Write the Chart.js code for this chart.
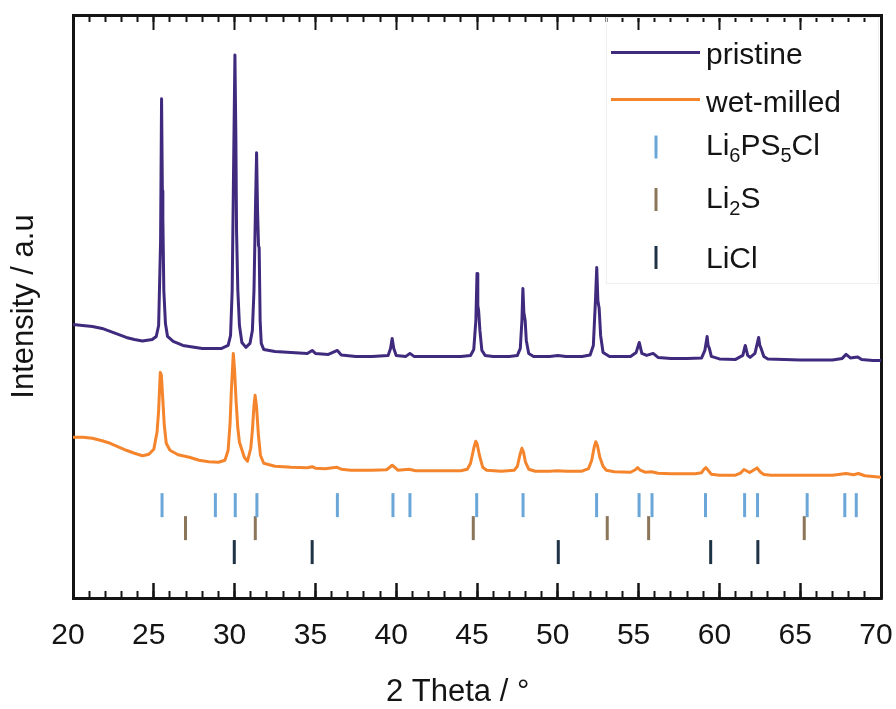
<!DOCTYPE html>
<html>
<head>
<meta charset="utf-8">
<script src="https://cdn.jsdelivr.net/npm/chart.js@4.4.1/dist/chart.umd.min.js"></script>
<style>
  html, body { margin: 0; padding: 0; background: #ffffff; }
  #wrap { width: 896px; height: 709px; }
</style>
</head>
<body>
<div id="wrap"><canvas id="xrd" width="896" height="709"></canvas></div>
<script>
// ---- XRD patterns (2θ in degrees, intensity in arbitrary units) ----
const pristineTheta = [
  20.0, 20.6, 21.2, 21.8, 22.3, 22.8, 23.3, 23.8, 24.3, 24.9, 25.15, 25.3, 25.42, 25.48, 25.53, 25.56, 25.62, 25.72, 25.85,
  26.2, 26.8, 27.4, 28.0, 28.6, 29.2, 29.6, 29.75, 29.85, 29.95, 30.02, 30.08, 30.12, 30.2, 30.3, 30.45, 30.7, 30.95,
  31.1, 31.2, 31.3, 31.36, 31.42, 31.48, 31.52, 31.58, 31.65, 31.8, 32.5, 33.5, 34.5, 34.8, 35.0, 35.8, 36.36, 36.6,
  37.5, 38.5, 39.5, 39.65, 39.75, 39.85, 40.0, 40.6, 40.85, 41.1, 42.0, 43.0, 44.0, 44.6, 44.8, 44.93, 45.0, 45.05,
  45.1, 45.18, 45.3, 45.5, 46.0, 47.0, 47.5, 47.68, 47.78, 47.84, 47.9, 47.98, 48.05, 48.2, 48.5, 49.5, 50.0, 50.5,
  51.5, 52.0, 52.2, 52.33, 52.41, 52.48, 52.56, 52.65, 52.8, 53.2, 54.5, 54.85, 55.04, 55.2, 55.5, 55.9, 56.2, 57.0,
  58.0, 58.9, 59.1, 59.24, 59.3, 59.38, 59.5, 60.0, 61.0, 61.45, 61.6, 61.75, 61.9, 62.2, 62.43, 62.5, 62.58, 62.75,
  63.0, 64.0, 65.0, 66.0, 67.0, 67.6, 67.84, 68.1, 68.56, 68.8, 69.5, 70.0
];
const pristineCounts = [
  274, 273, 272, 270, 267, 264, 261, 259, 257.5, 259, 262, 273, 358, 500, 408, 381, 308, 275, 262,
  257, 253, 251.5, 250, 250, 250, 253, 263, 308, 448, 544, 458, 368, 308, 273, 256, 251, 255,
  268, 308, 398, 446, 388, 353, 351, 278, 255, 249, 247, 246, 245, 248, 245, 244, 248, 243.5,
  242, 242, 243, 250, 260, 250, 243, 242, 245, 242, 242, 242, 242, 243, 249, 278, 325, 293,
  288, 268, 248, 243, 242, 242, 243, 250, 278, 310, 286, 278, 258, 245, 242, 242, 243, 242,
  242, 243.5, 253, 298, 331, 298, 290, 263, 246, 242, 242, 246, 256, 245, 243, 245, 241, 240,
  240, 240.5, 248, 262, 253, 250, 242, 239.5, 239, 243, 253, 243, 241, 245, 261, 253, 250, 242,
  239.5, 239, 238.5, 238.5, 238.5, 240, 244, 240.5, 241.5, 239, 238, 238
];

const milledTheta = [
  20.0, 20.6, 21.2, 21.8, 22.3, 22.8, 23.3, 23.8, 24.3, 24.7, 25.0, 25.2, 25.3, 25.4, 25.47, 25.56, 25.65, 25.77,
  26.0, 26.5, 27.2, 27.8, 28.4, 29.0, 29.4, 29.6, 29.72, 29.8, 29.92, 30.0, 30.09, 30.2, 30.3, 30.6, 30.8, 31.0,
  31.1, 31.2, 31.27, 31.35, 31.48, 31.6, 31.8, 32.5, 33.5, 34.5, 34.8, 35.0, 35.6, 36.3, 36.6, 37.2, 38.5, 39.4,
  39.6, 39.75, 39.9, 40.1, 40.8, 41.2, 42.5, 44.0, 44.4, 44.6, 44.8, 44.92, 45.0, 45.15, 45.35, 45.6, 46.5, 47.3,
  47.5, 47.65, 47.78, 47.88, 48.0, 48.2, 48.6, 49.5, 50.0, 50.5, 51.5, 51.9, 52.1, 52.25, 52.35, 52.45, 52.6, 52.8,
  53.0, 53.5, 54.5, 54.8, 54.94, 55.1, 55.4, 55.8, 56.2, 57.0, 58.5, 58.9, 59.05, 59.16, 59.3, 59.5, 60.0, 61.0,
  61.3, 61.52, 61.87, 62.1, 62.33, 62.55, 62.76, 63.2, 65.0, 67.0, 67.84, 68.3, 68.6, 69.0, 70.0
];
const milledCounts = [
  161, 161, 160, 157.5, 155, 151.5, 148, 145, 142.5, 144, 149, 166, 188, 226, 223, 198, 173, 155,
  148, 143.5, 141, 138, 136.5, 136, 138, 148, 175, 208, 245, 228, 198, 170, 156, 141, 137, 150,
  168, 193, 203, 193, 162, 143, 135, 132, 131, 130.5, 131.5, 130, 129.5, 131, 129, 128, 128, 128.5,
  131, 133, 131, 128, 129, 127.5, 127.5, 127.5, 129, 135, 150, 157, 155, 143, 131, 128, 127, 128,
  132, 143, 150, 146, 136, 129, 127, 127, 127.5, 127, 127, 129.5, 138, 151, 156.5, 153, 141, 132,
  128, 126.5, 126, 128.5, 130.7, 128, 126, 126.5, 125, 124.5, 124.5, 125.5, 129, 130.7, 128, 124, 123, 123,
  125, 128.7, 125.7, 128, 130.3, 126, 123.7, 123, 123, 123, 124.7, 123.5, 124.7, 122.5, 121
];

// ---- reference reflections (2θ) ----
const argyroditeRefs = [25.51, 28.81, 30.04, 31.38, 36.36, 39.80, 40.85, 44.98, 47.85, 52.40, 55.03, 55.83, 59.14, 61.56, 62.36, 65.43, 67.76, 68.47];
const li2sRefs = [26.96, 31.28, 44.77, 53.06, 55.62, 65.25];
const liclRefs = [29.98, 34.80, 50.03, 59.46, 62.38];

// axis ticks
const majorTicks = [20, 25, 30, 35, 40, 45, 50, 55, 60, 65, 70];

// row heights for the reference stick markers
const ROW_ARGYRODITE = 93, ROW_LI2S = 70, ROW_LICL = 46;

const PURPLE = '#3f2a7e';
const ORANGE = '#f5852d';
const BLUE = '#6ba6d8';
const BROWN = '#8c7659';
const NAVY = '#1f3347';
const INK = '#141414';
const FONT = '"Liberation Sans", Arial, Helvetica, sans-serif';

const pts = (xs, ys) => xs.map((x, i) => ({ x, y: ys[i] }));
const sticks = (xs, level) => xs.map(x => ({ x, y: level }));

function stickSet(label, xs, level, color) {
  return {
    label, data: sticks(xs, level), showLine: false,
    pointStyle: 'line', pointRotation: 90, pointRadius: 12, pointHoverRadius: 12,
    pointBorderWidth: 3, pointBorderColor: color, borderColor: color, backgroundColor: color
  };
}

// legend drawn inside the plot frame
const legendRows = [
  { kind: 'line', color: PURPLE, y: 52.5, base: 64, parts: [['pristine', 0]] },
  { kind: 'line', color: ORANGE, y: 99.5, base: 112, parts: [['wet-milled', 0]] },
  { kind: 'stick', color: BLUE, y: 147, base: 155, parts: [['Li', 0], ['6', 1], ['PS', 0], ['5', 1], ['Cl', 0]] },
  { kind: 'stick', color: BROWN, y: 199.5, base: 208, parts: [['Li', 0], ['2', 1], ['S', 0]] },
  { kind: 'stick', color: NAVY, y: 257.5, base: 268, parts: [['LiCl', 0]] }
];

const framePlugin = {
  id: 'frameExtras',
  beforeDatasetsDraw(chart) {
    const { ctx, chartArea } = chart;
    const left = chartArea.right - 275;
    ctx.save();
    ctx.strokeStyle = '#efefef';
    ctx.lineWidth = 1;
    ctx.strokeRect(left + 0.5, chartArea.top + 2.5, chartArea.right - left - 3, 283 - chartArea.top - 2);
    ctx.restore();
  },
  afterDraw(chart) {
    const { ctx, chartArea } = chart;
    const left = chartArea.right - 275;
    ctx.save();
    legendRows.forEach(row => {
      ctx.strokeStyle = row.color;
      ctx.lineWidth = 3;
      ctx.beginPath();
      if (row.kind === 'line') {
        ctx.moveTo(left + 5, row.y);
        ctx.lineTo(left + 94, row.y);
      } else {
        ctx.moveTo(left + 50, row.y - 11.5);
        ctx.lineTo(left + 50, row.y + 11.5);
      }
      ctx.stroke();
      let x = left + 100;
      ctx.fillStyle = INK;
      ctx.textBaseline = 'alphabetic';
      ctx.textAlign = 'left';
      row.parts.forEach(([txt, sub]) => {
        ctx.font = sub ? `20px ${FONT}` : `30px ${FONT}`;
        ctx.fillText(txt, x, sub ? row.base + 7 : row.base);
        x += ctx.measureText(txt).width;
      });
    });
    // x-axis caption
    const xs = chart.scales.x;
    ctx.font = `31px ${FONT}`;
    ctx.textAlign = 'center';
    ctx.textBaseline = 'alphabetic';
    ctx.fillStyle = INK;
    ctx.fillText('2 Theta / °', xs.getPixelForValue(43.8), 701);
    ctx.restore();
  }
};

const noSidePadding = s => { s.paddingLeft = 0; s.paddingRight = 0; };

const tickAxis = (position, step, len, weight) => ({
  type: 'linear', position, min: 20, max: 70, weight,
  afterFit: s => { s.height = 0; noSidePadding(s); },
  ticks: { display: false, stepSize: step, autoSkip: false },
  grid: { drawOnChartArea: false, drawTicks: true, tickLength: len, tickWidth: 2, tickColor: INK },
  border: { display: false }
});

new Chart(document.getElementById('xrd'), {
  type: 'line',
  data: {
    datasets: [
      { label: 'pristine', data: pts(pristineTheta, pristineCounts), borderColor: PURPLE, borderWidth: 3,
        pointRadius: 0, tension: 0, borderJoinStyle: 'round' },
      { label: 'wet-milled', data: pts(milledTheta, milledCounts), borderColor: ORANGE, borderWidth: 3,
        pointRadius: 0, tension: 0, borderJoinStyle: 'round' },
      stickSet('Li6PS5Cl', argyroditeRefs, ROW_ARGYRODITE, BLUE),
      stickSet('Li2S', li2sRefs, ROW_LI2S, BROWN),
      stickSet('LiCl', liclRefs, ROW_LICL, NAVY)
    ]
  },
  options: {
    responsive: false,
    animation: false,
    events: [],
    layout: { padding: { top: 14, right: 13, left: 0, bottom: 0 } },
    plugins: { legend: { display: false }, tooltip: { enabled: false } },
    scales: {
      x: {
        type: 'linear', position: 'bottom', min: 20, max: 70, weight: 0,
        afterFit: s => { s.height = 111; noSidePadding(s); },
        afterBuildTicks: s => { s.ticks = majorTicks.map(v => ({ value: v })); },
        ticks: { font: { size: 30, family: FONT }, color: INK, padding: 35, labelOffset: -5, maxRotation: 0, autoSkip: false },
        grid: { drawOnChartArea: false, drawTicks: true, tickLength: -15, tickWidth: 2.5, tickColor: INK },
        border: { display: true, color: INK, width: 3 }
      },
      xMinor: tickAxis('bottom', 1, -7, -1),
      xTop: Object.assign(tickAxis('top', 5, -15, 0), { border: { display: true, color: INK, width: 3 } }),
      xTopMinor: tickAxis('top', 1, -7, -1),
      y: {
        type: 'linear', position: 'left', min: 0, max: 584,
        afterFit: s => { s.width = 73; },
        ticks: { display: false },
        grid: { drawOnChartArea: false, drawTicks: false },
        border: { display: true, color: INK, width: 3 },
        title: { display: true, text: 'Intensity / a.u', color: INK, font: { size: 31, family: FONT }, padding: { top: 6, bottom: 0 } }
      },
      yRight: {
        type: 'linear', position: 'right', min: 0, max: 584,
        afterFit: s => { s.width = 0; },
        ticks: { display: false },
        grid: { drawOnChartArea: false, drawTicks: false },
        border: { display: true, color: INK, width: 3 }
      }
    }
  },
  plugins: [framePlugin]
});
</script>
</body>
</html>
